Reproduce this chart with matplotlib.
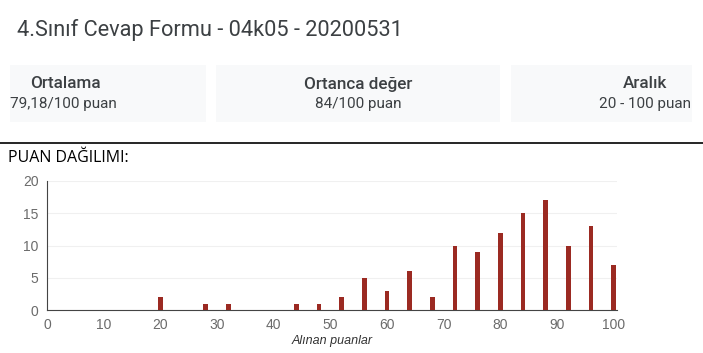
import matplotlib.pyplot as plt
from matplotlib.patches import Rectangle

# puan dağılımı verisi
scores = [20, 28, 32, 44, 48, 52, 56, 60, 64, 68, 72, 76, 80, 84, 88, 92, 96, 100]
counts = [2, 1, 1, 1, 1, 2, 5, 3, 6, 2, 10, 9, 12, 15, 17, 10, 13, 7]

title = "4.Sınıf Cevap Formu - 04k05 - 20200531"
card_titles = ["Ortalama", "Ortanca değer", "Aralık"]
card_values = ["79,18/100 puan", "84/100 puan", "20 - 100 puan"]

W, H = 703, 353


def fx(px):
    return px / W


def fy(py):
    return 1 - py / H


fig = plt.figure(figsize=(W / 100, H / 100), dpi=100)
fig.patch.set_facecolor('white')

# başlık
fig.text(fx(17), fy(30), title, fontsize=15.7, family='Roboto', color='#3c4043', va='center', ha='left')

# özet kartları
boxes = [(10, 206), (216, 500), (511, 692)]
title_x = [65, 358, 645]
value_x = [63, 358, 645]
for i in range(3):
    x0, x1 = boxes[i]
    fig.patches.append(Rectangle((fx(x0), fy(122)), fx(x1 - x0), (122 - 65) / H,
                                 transform=fig.transFigure, facecolor='#f8f9fa', edgecolor='none'))
    fig.text(fx(title_x[i]), fy(84), card_titles[i], fontsize=12.3, family='Roboto', weight='medium',
             color='#3c4043', ha='center', va='center')
    fig.text(fx(value_x[i]), fy(104), card_values[i], fontsize=11, family='Roboto',
             color='#3c4043', ha='center', va='center')

# ayırıcı çizgi
fig.add_artist(plt.Line2D([0, 1], [fy(142.5), fy(142.5)], transform=fig.transFigure, color='black', lw=1.2))
fig.text(fx(8), fy(158), "PUAN DAĞILIMI:", fontsize=11.5, family='Open Sans', color='black', ha='left', va='center')

# grafik
ax = fig.add_axes([fx(47), fy(310), fx(617 - 47), (310 - 181) / H])
ax.bar(scores, counts, width=0.85, color='#9b2a22', zorder=3)
ax.set_xlim(0, 100.6)
ax.set_ylim(0, 20)
ax.set_xticks(range(0, 101, 10))
ax.set_yticks(range(0, 21, 5))
ax.grid(axis='y', color='#f0f0f0', lw=0.8, zorder=0)
for s in ['top', 'right']:
    ax.spines[s].set_visible(False)
ax.spines['left'].set_color('#444444')
ax.spines['bottom'].set_color('#444444')
ax.tick_params(length=0, labelsize=10, labelcolor='#6b6b6b', pad=6)
for lab in ax.get_xticklabels() + ax.get_yticklabels():
    lab.set_family('Liberation Sans')
ax.set_xlabel("Alınan puanlar", fontsize=9, style='italic', family='Liberation Sans', color='#333333', labelpad=2)

fig.savefig('out.png', dpi=100)
